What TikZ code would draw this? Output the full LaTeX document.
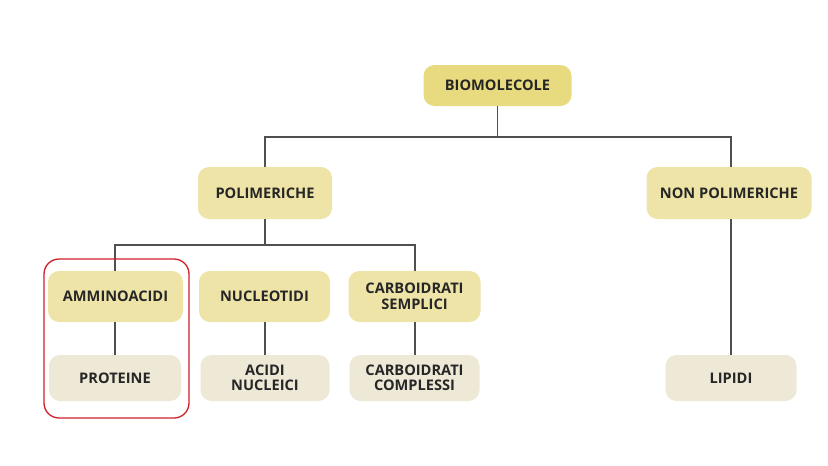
\documentclass[tikz,border=0pt]{standalone}
\usepackage{fontspec}
\setmainfont{Open Sans}
\definecolor{topfill}{HTML}{E8DA7E}
\definecolor{midfill}{HTML}{EEE4A8}
\definecolor{lowfill}{HTML}{EEE8D6}
\definecolor{linegray}{HTML}{505050}
\definecolor{redframe}{HTML}{D0202A}
\tikzset{
  box/.style={rounded corners=11pt, inner sep=0pt, align=center,
    font=\fontsize{14.6}{15.5}\selectfont\bfseries, text=black!85},
  topbox/.style={box, fill=topfill},
  midbox/.style={box, fill=midfill},
  lowbox/.style={box, fill=lowfill},
  conn/.style={draw=linegray, line width=1.3pt},
}
\begin{document}
\begin{tikzpicture}[x=1pt,y=-1pt]
\useasboundingbox (0,0) rectangle (828,466);
\fill[white] (0,0) rectangle (828,466);
% nodes
\node[topbox, minimum width=148pt, minimum height=41pt] (bio) at (497.5,85.5) {BIOMOLECOLE};
\node[midbox, minimum width=134pt, minimum height=52pt] (pol) at (265,193) {POLIMERICHE};
\node[midbox, minimum width=165pt, minimum height=52pt] (npol) at (729,193) {NON POLIMERICHE};
\node[midbox, minimum width=135pt, minimum height=51pt] (amm) at (115.5,296.5) {AMMINOACIDI};
\node[midbox, minimum width=131pt, minimum height=51pt] (nuc) at (264.5,296.5) {NUCLEOTIDI};
\node[midbox, minimum width=132pt, minimum height=51pt] (cs) at (414.5,296.5) {CARBOIDRATI\\SEMPLICI};
\node[lowbox, minimum width=132pt, minimum height=46pt] (pro) at (115,378) {PROTEINE};
\node[lowbox, minimum width=129pt, minimum height=46pt] (ac) at (265,378) {ACIDI\\NUCLEICI};
\node[lowbox, minimum width=130pt, minimum height=46pt] (cc) at (414.5,378) {CARBOIDRATI\\COMPLESSI};
\node[lowbox, minimum width=131pt, minimum height=46pt] (lip) at (731,378) {LIPIDI};
% connectors
\coordinate (j1) at (497.5,137);
\coordinate (j2) at (265,245);
\draw[conn] (bio.south) -- (j1);
\draw[conn] (pol.north) |- (j1) -| (npol.north -| 731,0);
\draw[conn] (pol.south) -- (j2);
\draw[conn] (amm.north -| 115,0) |- (j2) -| (cs.north -| 415,0);
\draw[conn] (amm.south -| 115,0) -- (pro.north -| 115,0);
\draw[conn] (nuc.south -| 265,0) -- (ac.north -| 265,0);
\draw[conn] (cs.south -| 415,0) -- (cc.north -| 415,0);
\draw[conn] (npol.south -| 731,0) -- (lip.north -| 731,0);
% red frame
\node[draw=redframe, line width=1.3pt, rounded corners=15pt, minimum width=145pt, minimum height=159pt, inner sep=0pt] (frame) at (116.5,338.5) {};
\end{tikzpicture}
\end{document}
